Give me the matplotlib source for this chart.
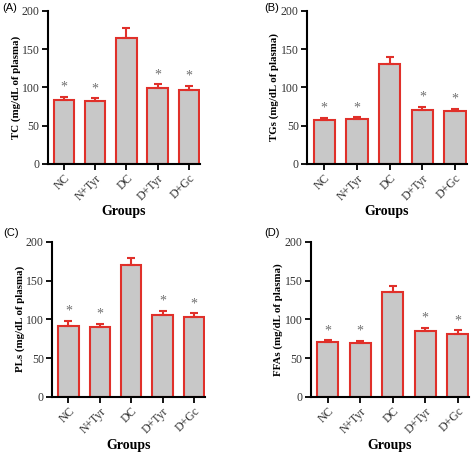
import matplotlib
matplotlib.use("Agg")
import matplotlib.pyplot as plt

groups = ["NC", "N+Tyr", "DC", "D+Tyr", "D+Gc"]

tc = [84, 82, 165, 99, 96]
tc_err = [4, 4, 12, 5, 6]
tg = [57, 59, 131, 70, 69]
tg_err = [3, 2, 9, 5, 3]
pl = [92, 90, 170, 105, 103]
pl_err = [6, 4, 9, 6, 5]
ffa = [71, 69, 135, 85, 81]
ffa_err = [2, 3, 8, 4, 5]

star = [True, True, False, True, True]

# tag, ylabel, values, errors, axes position, tag position
panels = [
    ("(A)", "TC (mg/dL of plasma)", tc, tc_err, [0.101, 0.638, 0.321, 0.338], (0.004, 0.982)),
    ("(B)", "TGs (mg/dL of plasma)", tg, tg_err, [0.648, 0.638, 0.337, 0.338], (0.557, 0.982)),
    ("(C)", "PLs (mg/dL of plasma)", pl, pl_err, [0.110, 0.124, 0.323, 0.342], (0.006, 0.486)),
    ("(D)", "FFAs (mg/dL of plasma)", ffa, ffa_err, [0.656, 0.124, 0.334, 0.342], (0.557, 0.486)),
]

serif = ["Liberation Serif", "DejaVu Serif"]
fig = plt.figure(figsize=(4.74, 4.53), dpi=100)

for tag, ylab, vals, errs, pos, tpos in panels:
    ax = fig.add_axes(pos)
    x = range(len(groups))
    ax.bar(x, vals, width=0.65, color="#c8c8c8", edgecolor="#e0302a", linewidth=1.5, zorder=2)
    ax.errorbar(x, vals, yerr=[[0] * len(vals), errs], fmt="none", ecolor="#e0302a",
                elinewidth=1.5, capsize=3, capthick=1.5, zorder=3)
    for i, v in enumerate(vals):
        if star[i]:
            ax.text(i, v + errs[i] + 4, "*", ha="center", va="bottom", color="#707070",
                    fontsize=10, family=serif)
    ax.set_xlim(-0.52, 4.36)
    ax.set_ylim(0, 200)
    ax.set_yticks([0, 50, 100, 150, 200])
    ax.set_xticks(list(x))
    ax.set_xticklabels(groups, rotation=45, ha="right", rotation_mode="anchor",
                       family=serif, fontsize=8.5, color="#333333")
    for t in ax.get_yticklabels():
        t.set_family(serif)
        t.set_fontsize(8.5)
        t.set_color("#333333")
    ax.spines["top"].set_visible(False)
    ax.spines["right"].set_visible(False)
    ax.spines["left"].set_linewidth(1.5)
    ax.spines["bottom"].set_linewidth(1.5)
    ax.tick_params(width=1.3, length=4, pad=2)
    ax.set_ylabel(ylab, family=serif, fontweight="bold", fontsize=7.8)
    ax.yaxis.set_label_coords(-0.175, 0.5)
    ax.set_xlabel("Groups", family=serif, fontweight="bold", fontsize=10)
    ax.xaxis.set_label_coords(0.5, -0.27)
    fig.text(tpos[0], tpos[1], tag, fontsize=8,
             family=["Liberation Sans", "DejaVu Sans"], va="center")

fig.savefig("out.png", dpi=100)
